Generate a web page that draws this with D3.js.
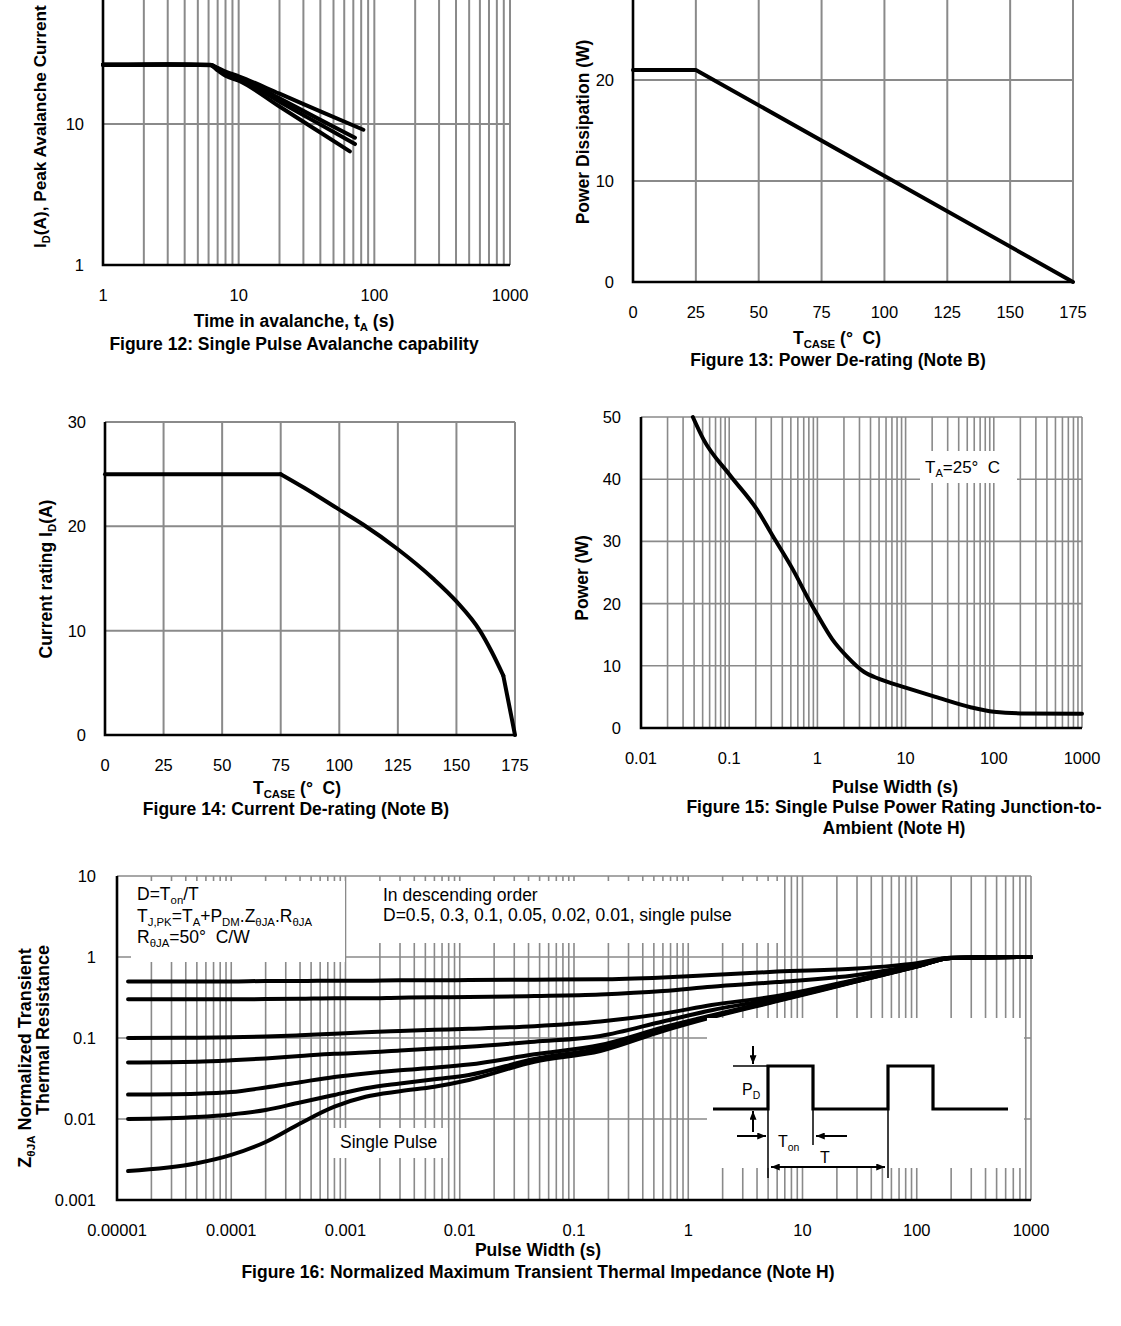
<!DOCTYPE html>
<html>
<head>
<meta charset="utf-8">
<script src="https://cdn.jsdelivr.net/npm/d3@7"></script>
<style>
body { margin: 0; background: #fff; }
svg { display: block; font-family: "Liberation Sans", Arial, sans-serif; }
</style>
</head>
<body>
<svg id="chart" width="1121" height="1326"></svg>
<script>
//---- Figure 12: single pulse avalanche (t in s, I in A)
var avalTicksX = [1, 10, 100, 1000];
var avalLabelsX = ['1', '10', '100', '1000'];
var avalTicksY = [1, 10];
var avalLabelsY = ['1', '10'];
var aval1 = [[1, 26.3], [3, 26.4], [6.2, 26.3], [7, 25], [8, 23.5], [10, 21.8], [20, 16.4], [40, 12.3], [83, 9.1]];
var aval2 = [[1, 26.3], [3, 26.4], [6.2, 26.2], [7, 24.7], [8, 23], [10, 21.4], [20, 15.2], [40, 10.7], [72, 8.0]];
var aval3 = [[1, 26.3], [3, 26.4], [6.2, 26.2], [7, 24.4], [8, 22.5], [10, 21.0], [20, 14.4], [40, 9.9], [72, 7.2]];
var aval4 = [[1, 26.3], [3, 26.4], [6.2, 26.1], [7, 24], [8, 22], [10, 20.3], [20, 13.3], [40, 8.7], [66, 6.4]];

//---- Figure 13: power de-rating
var caseTicks = [0, 25, 50, 75, 100, 125, 150, 175];
var pdTicks = [0, 10, 20];
var pdTemp = [0, 25, 175];
var pdPower = [21, 21, 0];

//---- Figure 14: current de-rating
var idTicks = [0, 10, 20, 30];
var idTemp = [0, 75, 85, 100, 110, 125, 140, 150, 160, 165, 170, 175];
var idCurr = [25, 25, 23.7, 21.6, 20.2, 17.8, 15, 12.8, 10, 8, 5.7, 0];

//---- Figure 15: single pulse power rating
var spTicksX = [0.01, 0.1, 1, 10, 100, 1000];
var spLabelsX = ['0.01', '0.1', '1', '10', '100', '1000'];
var spTicksY = [0, 10, 20, 30, 40, 50];
var spWidth = [0.0387, 0.0511, 0.1, 0.207, 0.33, 0.526, 0.837, 1.0, 1.47, 2.13, 3.39, 5, 10, 21.8, 55.6, 100, 204, 1000];
var spPower = [50, 46.4, 40.8, 35.1, 30.3, 25.5, 20.1, 18.2, 14.3, 11.6, 9.0, 7.9, 6.5, 5.0, 3.3, 2.6, 2.35, 2.3];

//---- Figure 16: normalized transient thermal impedance
var zTicksX = [1e-5, 1e-4, 1e-3, 0.01, 0.1, 1, 10, 100, 1000];
var zLabelsX = ['0.00001', '0.0001', '0.001', '0.01', '0.1', '1', '10', '100', '1000'];
var zTicksY = [0.001, 0.01, 0.1, 1, 10];
var zLabelsY = ['0.001', '0.01', '0.1', '1', '10'];
var zT = [1.25e-5, 5e-5, 1e-4, 2e-4, 4e-4, 8e-4, 1.5e-3, 3e-3, 6e-3, 0.012, 0.045, 0.17, 0.6, 1.6, 6, 30, 100, 200, 1000];
var z05 = [0.50, 0.50, 0.50, 0.505, 0.505, 0.51, 0.51, 0.515, 0.515, 0.52, 0.525, 0.53, 0.56, 0.60, 0.66, 0.72, 0.84, 0.98, 1.0];
var z03 = [0.30, 0.30, 0.30, 0.302, 0.305, 0.31, 0.31, 0.315, 0.318, 0.32, 0.33, 0.345, 0.38, 0.43, 0.49, 0.60, 0.80, 0.98, 1.0];
var z01 = [0.10, 0.101, 0.102, 0.104, 0.108, 0.113, 0.118, 0.122, 0.126, 0.13, 0.14, 0.16, 0.2, 0.255, 0.33, 0.53, 0.78, 0.97, 1.0];
var z005 = [0.05, 0.051, 0.053, 0.056, 0.06, 0.064, 0.066, 0.07, 0.074, 0.078, 0.09, 0.106, 0.16, 0.22, 0.31, 0.52, 0.77, 0.97, 1.0];
var z002 = [0.02, 0.0205, 0.0215, 0.0245, 0.0285, 0.033, 0.0365, 0.040, 0.043, 0.047, 0.063, 0.082, 0.135, 0.19, 0.295, 0.51, 0.765, 0.97, 1.0];
var z001 = [0.01, 0.0106, 0.0114, 0.0129, 0.016, 0.0198, 0.024, 0.0275, 0.031, 0.035, 0.055, 0.075, 0.128, 0.185, 0.29, 0.505, 0.76, 0.97, 1.0];
var zSP = [0.00228, 0.00284, 0.0036, 0.0052, 0.0088, 0.0142, 0.0188, 0.022, 0.025, 0.0303, 0.051, 0.069, 0.122, 0.18, 0.285, 0.5, 0.76, 0.97, 1.0];

var svg = d3.select('#chart');
var TICK = 16.5, TITLE = 17.5, GRID = '#8a8a8a';

// arrow head for the inset drawing
svg.append('defs').append('marker')
  .attr('id', 'arr').attr('viewBox', '0 0 10 8')
  .attr('refX', 10).attr('refY', 4)
  .attr('markerWidth', 9).attr('markerHeight', 7)
  .attr('markerUnits', 'userSpaceOnUse')
  .attr('orient', 'auto-start-reverse')
  .append('path').attr('d', 'M0,0 L10,4 L0,8 z').attr('fill', '#000');

// text with subscripts: parts = [[text, isSub], ...]
function rich(sel, parts, size) {
  var shift = 0;
  parts.forEach(function(p) {
    var target = p[1] ? size * 0.24 : 0;
    sel.append('tspan')
      .attr('dy', target - shift)
      .attr('font-size', p[1] ? size * 0.65 : size)
      .text(p[0]);
    shift = target;
  });
  return sel;
}

function label(x, y, parts, size, opts) {
  opts = opts || {};
  var t = svg.append('text')
    .attr('text-anchor', opts.anchor || 'middle')
    .attr('font-weight', opts.bold ? 'bold' : 'normal')
    .attr('font-size', size)
    .attr('fill', '#000');
  if (opts.rotate) t.attr('transform', 'translate(' + x + ',' + y + ') rotate(-90)');
  else t.attr('x', x).attr('y', y);
  if (typeof parts == 'string') t.text(parts);
  else rich(t, parts, size);
  return t;
}

// grid lines for a panel
function grid(xS, yS, vVals, hVals, w) {
  var g = svg.append('g');
  var xr = xS.range(), yr = yS.range();
  g.selectAll('line.v').data(vVals).enter().append('line')
    .attr('x1', function(d) { return xS(d); })
    .attr('x2', function(d) { return xS(d); })
    .attr('y1', yr[0]).attr('y2', yr[1])
    .attr('stroke', GRID).attr('stroke-width', w);
  g.selectAll('line.h').data(hVals).enter().append('line')
    .attr('x1', xr[0]).attr('x2', xr[1])
    .attr('y1', function(d) { return yS(d); })
    .attr('y2', function(d) { return yS(d); })
    .attr('stroke', GRID).attr('stroke-width', w);
}

// black left + bottom axes and tick labels
function axes(xS, yS, xT, xL, yT, yL, yGap) {
  var xr = xS.range(), yr = yS.range();
  svg.append('path')
    .attr('d', 'M' + xr[0] + ',' + yr[1] + 'V' + yr[0] + 'H' + xr[1])
    .attr('fill', 'none').attr('stroke', '#000').attr('stroke-width', 2.6);
  xT.forEach(function(v, i) {
    label(xS(v), yr[0] + 36, xL[i], TICK);
  });
  yT.forEach(function(v, i) {
    label(xr[0] - yGap, yS(v) + 6, yL[i], TICK, {anchor: 'end'});
  });
}

function curve(xS, yS, pts, kind, w) {
  var line = d3.line()
    .x(function(d) { return xS(d[0]); })
    .y(function(d) { return yS(d[1]); })
    .curve(kind);
  svg.append('path').datum(pts)
    .attr('d', line)
    .attr('fill', 'none').attr('stroke', '#000')
    .attr('stroke-width', w || 4)
    .attr('stroke-linejoin', 'round').attr('stroke-linecap', 'round');
}

function whiteBox(x, y, w, h) {
  svg.append('rect').attr('x', x).attr('y', y).attr('width', w).attr('height', h).attr('fill', '#fff');
}

function zip(a, b) { return a.map(function(v, i) { return [v, b[i]]; }); }

//================ Figure 12
var x12 = d3.scaleLog().domain([1, 1000]).range([103, 510]);
var y12 = d3.scaleLog().domain([1, 100]).range([265, -17]);
grid(x12, y12, x12.ticks(), [10, 100], 2);
[aval1, aval2, aval3, aval4].forEach(function(c) { curve(x12, y12, c, d3.curveMonotoneX, 4); });
axes(x12, y12, avalTicksX, avalLabelsX, avalTicksY, avalLabelsY, 19);
label(46, 248, [['I', 0], ['D', 1], ['(A), Peak Avalanche Current', 0]], 17.2, {bold: true, rotate: true, anchor: 'start'});
label(294, 327, [['Time in avalanche, t', 0], ['A', 1], [' (s)', 0]], TITLE, {bold: true});
label(294, 350, 'Figure 12: Single Pulse Avalanche capability', TITLE, {bold: true});

//================ Figure 13
var x13 = d3.scaleLinear().domain([0, 175]).range([633, 1073]);
var y13 = d3.scaleLinear().domain([0, 30]).range([282, -21]);
grid(x13, y13, caseTicks, [10, 20, 30], 2);
curve(x13, y13, zip(pdTemp, pdPower), d3.curveLinear, 4);
axes(x13, y13, caseTicks, caseTicks.map(String), pdTicks, pdTicks.map(String), 19);
label(589, 132, 'Power Dissipation (W)', TITLE, {bold: true, rotate: true});
label(837, 344, [['T', 0], ['CASE', 1], [' (°\u00a0\u00a0C)', 0]], TITLE, {bold: true});
label(838, 366, 'Figure 13: Power De-rating (Note B)', TITLE, {bold: true});

//================ Figure 14
var x14 = d3.scaleLinear().domain([0, 175]).range([105, 515]);
var y14 = d3.scaleLinear().domain([0, 30]).range([735, 422]);
grid(x14, y14, caseTicks, [10, 20, 30], 2);
var idPts = zip(idTemp, idCurr);
// flat part, smooth roll-off, then the straight drop to zero
curve(x14, y14, idPts.slice(0, 2), d3.curveLinear, 4);
curve(x14, y14, idPts.slice(1, 11), d3.curveMonotoneX, 4);
curve(x14, y14, idPts.slice(10), d3.curveLinear, 4);
axes(x14, y14, caseTicks, caseTicks.map(String), idTicks, idTicks.map(String), 19);
label(52, 579, [['Current rating I', 0], ['D', 1], ['(A)', 0]], TITLE, {bold: true, rotate: true});
label(297, 794, [['T', 0], ['CASE', 1], [' (°\u00a0\u00a0C)', 0]], TITLE, {bold: true});
label(296, 815, 'Figure 14: Current De-rating (Note B)', TITLE, {bold: true});

//================ Figure 15
var x15 = d3.scaleLog().domain([0.01, 1000]).range([641, 1082]);
var y15 = d3.scaleLinear().domain([0, 50]).range([728, 417]);
grid(x15, y15, x15.ticks(), [10, 20, 30, 40, 50], 1.6);
curve(x15, y15, zip(spWidth, spPower), d3.curveMonotoneX, 4);
whiteBox(920, 451, 97, 32);
axes(x15, y15, spTicksX, spLabelsX, spTicksY, spTicksY.map(String), 20);
label(925, 473, [['T', 0], ['A', 1], ['=25°\u00a0\u00a0C', 0]], 17, {anchor: 'start'});
label(588, 578, 'Power (W)', TITLE, {bold: true, rotate: true});
label(895, 793, 'Pulse Width (s)', TITLE, {bold: true});
label(894, 813, 'Figure 15: Single Pulse Power Rating Junction-to-', TITLE, {bold: true});
label(894, 834, 'Ambient (Note H)', TITLE, {bold: true});

//================ Figure 16
var x16 = d3.scaleLog().domain([1e-5, 1000]).range([117, 1031]);
var y16 = d3.scaleLog().domain([0.001, 10]).range([1200, 876]);
grid(x16, y16, x16.ticks(), [0.01, 0.1, 1, 10], 1.6);
[z05, z03, z01, z005, z002, z001, zSP].forEach(function(c) {
  curve(x16, y16, zip(zT, c), d3.curveMonotoneX, 4);
});
// annotation boxes sit over the grid (and clip the curves under the inset)
whiteBox(131, 881, 214, 81);
whiteBox(378, 881, 400, 62);
whiteBox(333, 1128, 115, 30);
whiteBox(707, 1018, 317, 150);
axes(x16, y16, zTicksX, zLabelsX, zTicksY, zLabelsY, 21);

var NOTE = 17.5;
label(137, 900, [['D=T', 0], ['on', 1], ['/T', 0]], NOTE, {anchor: 'start'});
label(137, 922, [['T', 0], ['J,PK', 1], ['=T', 0], ['A', 1], ['+P', 0], ['DM', 1], ['.Z', 0], ['θJA', 1], ['.R', 0], ['θJA', 1]], NOTE, {anchor: 'start'});
label(137, 943, [['R', 0], ['θJA', 1], ['=50°\u00a0\u00a0C/W', 0]], NOTE, {anchor: 'start'});
label(383, 901, 'In descending order', NOTE, {anchor: 'start'});
label(383, 921, 'D=0.5, 0.3, 0.1, 0.05, 0.02, 0.01, single pulse', NOTE, {anchor: 'start'});
label(340, 1148, 'Single Pulse', NOTE, {anchor: 'start'});

// pulse train inset, drawn in its own local frame
var ins = svg.append('g').attr('transform', 'translate(768,1109)');
ins.append('path').attr('d', 'M-55,0H0V-43H45V0H120V-43H165V0H240')
  .attr('fill', 'none').attr('stroke', '#000').attr('stroke-width', 3.2);
function insLine(x1, y1, x2, y2, w, mEnd, mStart) {
  var l = ins.append('line').attr('x1', x1).attr('y1', y1).attr('x2', x2).attr('y2', y2)
    .attr('stroke', '#000').attr('stroke-width', w);
  if (mEnd) l.attr('marker-end', 'url(#arr)');
  if (mStart) l.attr('marker-start', 'url(#arr)');
}
insLine(-35, -43, 0, -43, 1.5);
insLine(-15, -63, -15, -45, 2, true);
insLine(-15, 23, -15, 2, 2, true);
insLine(0, 0, 0, 69, 1.5);
insLine(45, 0, 45, 36, 1.5);
insLine(120, 0, 120, 69, 1.5);
insLine(-31, 27, -2, 27, 2, true);
insLine(79, 27, 48, 27, 2, true);
insLine(3, 58, 117, 58, 2, true, true);
rich(ins.append('text').attr('x', -26).attr('y', -14).attr('font-size', 16), [['P', 0], ['D', 1]], 16);
rich(ins.append('text').attr('x', 10).attr('y', 38).attr('font-size', 16), [['T', 0], ['on', 1]], 16);
ins.append('text').attr('x', 52).attr('y', 54).attr('font-size', 16).text('T');

label(31, 1058, [['Z', 0], ['θJA', 1], [' Normalized Transient', 0]], 18, {bold: true, rotate: true});
label(49, 1030, 'Thermal Resistance', 18, {bold: true, rotate: true});
label(538, 1256, 'Pulse Width (s)', TITLE, {bold: true});
label(538, 1278, 'Figure 16: Normalized Maximum Transient Thermal Impedance (Note H)', TITLE, {bold: true});
</script>
</body>
</html>
